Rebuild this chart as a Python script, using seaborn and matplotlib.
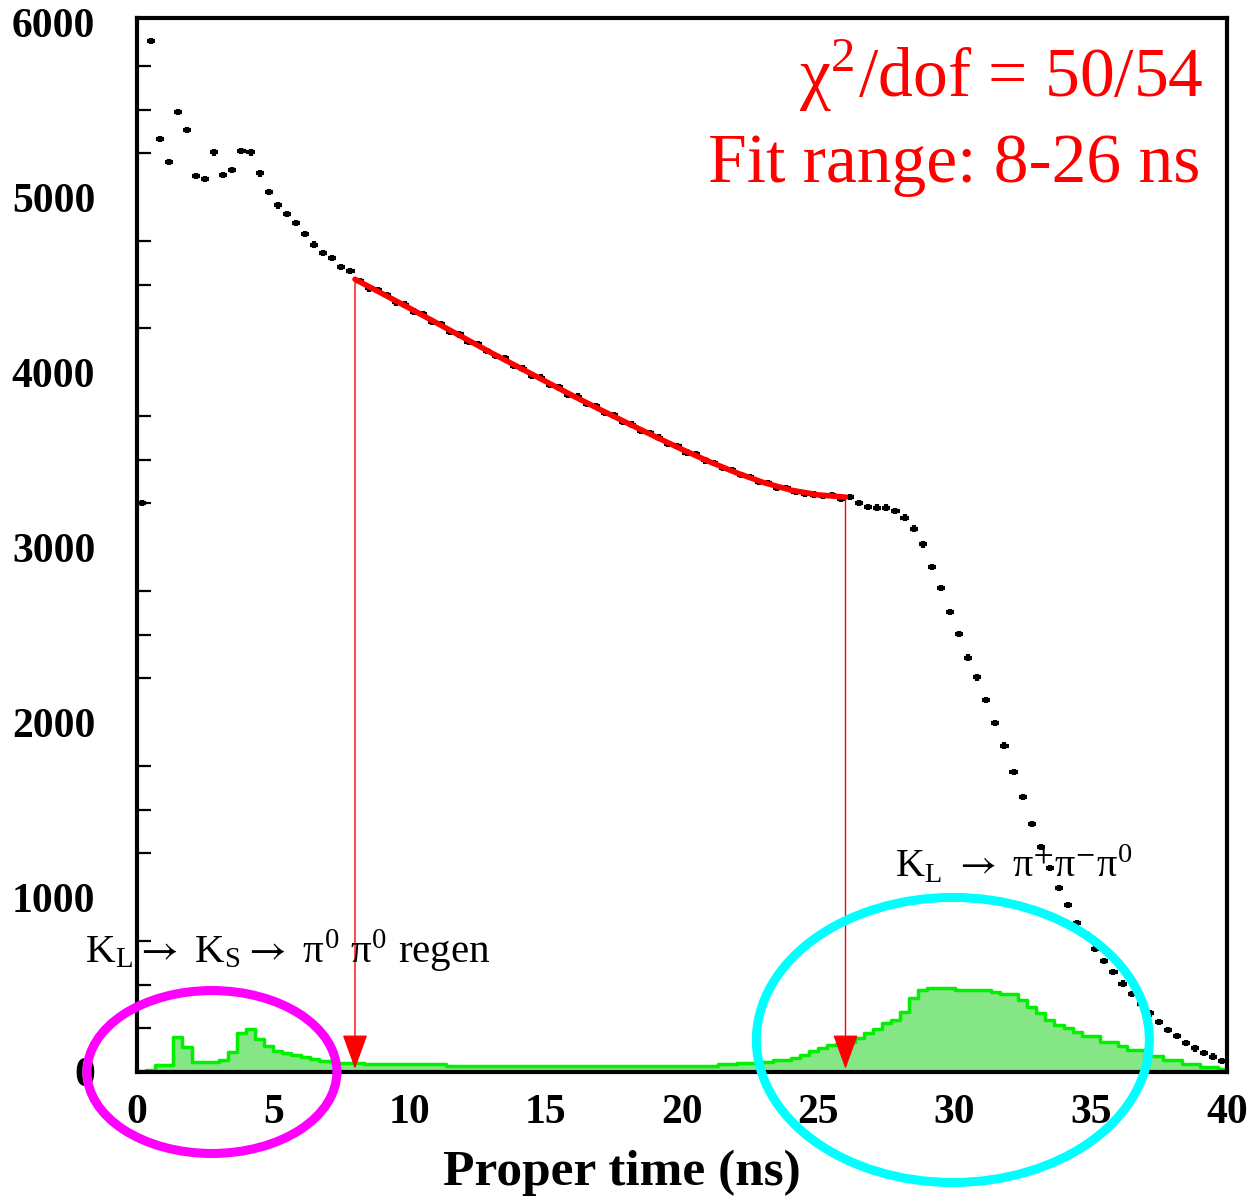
import numpy as np
import pandas as pd
import matplotlib
matplotlib.use("Agg")
import matplotlib.pyplot as plt
import seaborn as sns
from matplotlib.patches import Ellipse
from matplotlib.ticker import MultipleLocator

sns.set_theme(style="white")
plt.rcParams["font.family"] = ["Liberation Serif", "DejaVu Serif"]
plt.rcParams["mathtext.fontset"] = "stix"

# ---------------- data ----------------
n_bins = 120
t_min, t_max = 0.0, 40.0

# data counts per 1/3-ns bin
counts_pre = [3250, 5891, 5330, 5202, 5484, 5383, 5122, 5101, 5255, 5126, 5154, 5263,
              5255, 5135, 5029, 4952, 4901, 4850, 4789, 4728, 4682, 4653, 4602, 4579]
counts_fit = [4520, 4478, 4470, 4440, 4398, 4385, 4345, 4330, 4285, 4275,
              4230, 4215, 4170, 4160, 4120, 4090, 4080, 4035, 4020, 3980,
              3968, 3925, 3912, 3870, 3860, 3818, 3805, 3765, 3752, 3715,
              3700, 3662, 3650, 3625, 3590, 3578, 3540, 3530, 3495, 3482,
              3450, 3440, 3410, 3402, 3370, 3365, 3340, 3338, 3315, 3305,
              3300, 3290, 3298, 3275]
counts_post = [3284, 3253, 3230, 3225, 3225, 3207, 3168, 3105, 3015, 2884, 2764, 2630,
               2501, 2368, 2255, 2125, 1996, 1865, 1716, 1570, 1417, 1287, 1164, 1050,
               954, 853, 787, 705, 635, 570, 505, 445, 390, 335, 285, 242,
               205, 165, 135, 110, 88, 62]
counts = counts_pre + counts_fit + counts_post

# background (green) histogram per bin
background = [3, 12, 40, 40, 200, 145, 55, 55, 55, 69, 116, 225,
              244, 187, 149, 122, 107, 97, 87, 72, 65, 65, 53, 53,
              53, 46, 46, 46, 45, 45, 45, 44, 44, 44, 34, 33,
              34, 32, 33, 34, 33, 32, 33, 34, 33, 32, 33, 34,
              33, 32, 34, 33, 32, 33, 34, 33, 34, 33, 33, 33,
              32, 33, 34, 33, 48, 48, 50, 52, 55, 58, 69, 69,
              82, 97, 122, 135, 154, 160, 173, 192, 221, 244, 278, 300,
              345, 421, 469, 482, 482, 482, 469, 469, 469, 469, 455, 444,
              444, 411, 373, 335, 297, 269, 250, 230, 206, 206, 173, 173,
              149, 126, 126, 91, 91, 69, 69, 46, 46, 27, 27, 15]

# fit curve (ns, counts)
fit_t = [8, 9, 10, 11, 12, 13, 14, 15, 16, 17, 18, 19, 20, 21, 22, 23, 24, 25, 26]
fit_v = [4530, 4448, 4365, 4280, 4195, 4110, 4028, 3946, 3864, 3785, 3708, 3632,
         3558, 3488, 3424, 3368, 3325, 3298, 3285]

fit_lo, fit_hi = 8, 26
arrow_top = [4510, 3285]

edges = np.linspace(t_min, t_max, n_bins + 1)
centers = 0.5 * (edges[:-1] + edges[1:])
bkg_df = pd.DataFrame({"t": centers, "w": np.asarray(background, dtype=float)})
fit_df = pd.DataFrame({"t": fit_t, "v": fit_v})

# ---------------- figure ----------------
W, H = 1247, 1199
fig = plt.figure(figsize=(W / 100, H / 100), dpi=100)
ax = fig.add_axes([137 / W, 1 - 1072 / H, (1227 - 137) / W, (1072 - 18) / H])

sns.histplot(data=bkg_df, x="t", weights="w", bins=n_bins, binrange=(t_min, t_max),
             element="step", fill=True, color="#84e684", alpha=1.0, linewidth=0,
             ax=ax, zorder=1)
sns.histplot(data=bkg_df, x="t", weights="w", bins=n_bins, binrange=(t_min, t_max),
             element="step", fill=False, color="#00f000", linewidth=2.5, ax=ax, zorder=1.5)

ax.errorbar(centers, counts, xerr=0.15, yerr=18, fmt="none", ecolor="black",
            elinewidth=3.0, capsize=0, zorder=5)

sns.lineplot(data=fit_df, x="t", y="v", color="red", linewidth=4, ax=ax, zorder=6)

for t0, ytop in zip([fit_lo, fit_hi], arrow_top):
    ax.annotate("", xy=(t0, 18), xytext=(t0, ytop),
                arrowprops=dict(arrowstyle="-|>,head_length=1.1,head_width=0.4",
                                color="red", lw=1, mutation_scale=20,
                                shrinkA=0, shrinkB=0), zorder=7)

ax.set_xlim(t_min, t_max)
ax.set_ylim(0, 6023)
ax.set_xlabel("")
ax.set_ylabel("")

ax.xaxis.set_major_locator(MultipleLocator(5))
ax.xaxis.set_minor_locator(MultipleLocator(1))
ax.yaxis.set_major_locator(MultipleLocator(1000))
ax.yaxis.set_minor_locator(MultipleLocator(250))
ax.tick_params(axis="y", which="major", direction="in", length=17, width=1.6,
               pad=30, labelsize=30, labelcolor="black", color="black")
ax.tick_params(axis="y", which="minor", direction="in", length=10, width=1.6,
               left=True, color="black")
ax.tick_params(axis="x", which="major", direction="in", length=13, width=1.8,
               pad=16, labelsize=30, labelcolor="black", color="#222222")
ax.tick_params(axis="x", which="minor", direction="in", length=5, width=1.8,
               bottom=True, color="#222222")
for lab in ax.get_xticklabels() + ax.get_yticklabels():
    lab.set_fontweight("bold")
for sp in ax.spines.values():
    sp.set_visible(True)
    sp.set_color("black")
    sp.set_linewidth(3)

# ellipses (annotation rings)
ax.add_patch(Ellipse((2.75, 0), 9.17, 931, fill=False, edgecolor="#ff00ff",
                     linewidth=6.5, clip_on=False, zorder=10))
ax.add_patch(Ellipse((29.94, 183), 14.42, 1629, fill=False, edgecolor="#00ffff",
                     linewidth=6.5, clip_on=False, zorder=10))

# texts
fig.text(1203 / W, 1 - 97 / H, "χ$^\\mathregular{2}$/dof = 50/54", color="red", fontsize=50,
         ha="right", va="baseline")
fig.text(1200 / W, 1 - 182 / H, "Fit range: 8-26 ns", color="red", fontsize=50,
         ha="right", va="baseline")
fig.text(85 / W, 1 - 963 / H,
         "K$_\\mathregular{L}$$\\rightarrow$ K$_\\mathregular{S}$$\\rightarrow$ π$^\\mathregular{0}$ π$^\\mathregular{0}$ regen",
         color="black", fontsize=29.5, ha="left", va="baseline")
fig.text(895 / W, 1 - 877 / H,
         "K$_\\mathregular{L}$ $\\rightarrow$ π$^{+}$π$^{-}$π$^\\mathregular{0}$",
         color="black", fontsize=29, ha="left", va="baseline")
fig.text(622 / W, 1 - 1185 / H, "Proper time (ns)", color="black", fontsize=37,
         fontweight="bold", ha="center", va="baseline")

fig.savefig("out.png", dpi=100)
